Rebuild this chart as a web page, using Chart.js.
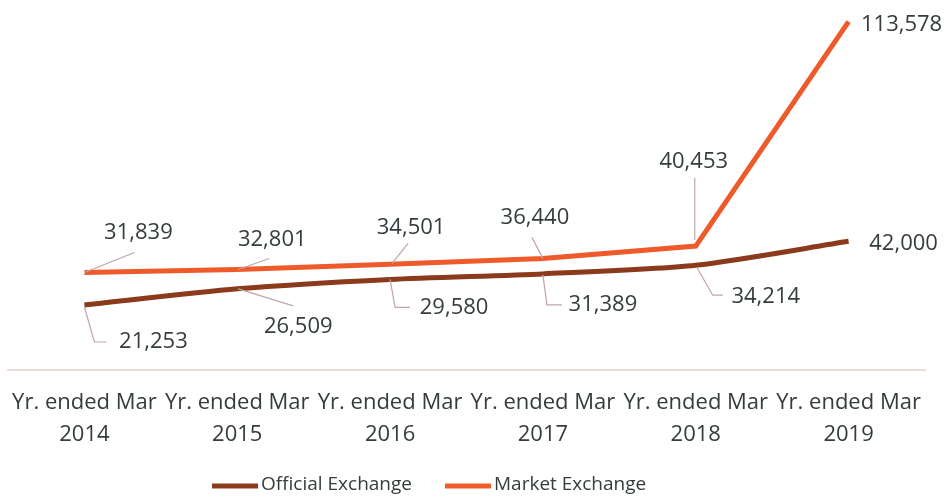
<!DOCTYPE html>
<html>
<head>
<meta charset="utf-8">
<script src="https://cdn.jsdelivr.net/npm/chart.js@4"></script>
<style>
  html, body { margin: 0; padding: 0; background: #ffffff; }
  #wrap { width: 945px; height: 498px; position: relative; }
</style>
</head>
<body>
<div id="wrap"><canvas id="line-chart"></canvas></div>
<script>
// categories and series
const years = [
  ['Yr. ended Mar', '2014'],
  ['Yr. ended Mar', '2015'],
  ['Yr. ended Mar', '2016'],
  ['Yr. ended Mar', '2017'],
  ['Yr. ended Mar', '2018'],
  ['Yr. ended Mar', '2019']
];
const official = [21253, 26509, 29580, 31389, 34214, 42000];
const market = [31839, 32801, 34501, 36440, 40453, 113578];

const textColor = '#353c3e';
const fontFamily = '"Open Sans", sans-serif';

// where each value label sits (text centre offset from the point) and its leader line
const labelLayout = {
  0: [ // official
    { dx: 69, dy: 37, leader: [[0, 2], [10, 37], [22, 37]] },
    { dx: 61, dy: 38, leader: [[1, 0], [56, 17]] },
    { dx: 64, dy: 28, leader: [[0, 0], [5, 28], [20, 28]] },
    { dx: 60, dy: 31, leader: [[0, 1], [4, 31], [19, 31]] },
    { dx: 70, dy: 32, leader: [[1, 2], [17, 30], [27, 30]] },
    { dx: 55, dy: 2, leader: null }
  ],
  1: [ // market
    { dx: 54, dy: -40, leader: [[0, 0], [50, -20]] },
    { dx: 35, dy: -30, leader: [[1, 0], [32, -11]] },
    { dx: 21, dy: -37, leader: [[2, -1], [18, -21]] },
    { dx: -8, dy: -41, leader: [[0, 0], [-11, -21]] },
    { dx: -2, dy: -84, leader: [[-1, -6], [-1, -68]] },
    { dx: 53, dy: 3, leader: null }
  ]
};

const valueLabels = {
  id: 'valueLabels',
  afterDatasetsDraw(chart) {
    const ctx = chart.ctx;
    ctx.save();
    chart.data.datasets.forEach((ds, i) => {
      const meta = chart.getDatasetMeta(i);
      meta.data.forEach((pt, j) => {
        const lay = labelLayout[i][j];
        if (lay.leader) {
          ctx.beginPath();
          ctx.strokeStyle = '#bfa6a6';
          ctx.lineWidth = 1.2;
          lay.leader.forEach((p, k) => {
            if (k === 0) ctx.moveTo(pt.x + p[0], pt.y + p[1]);
            else ctx.lineTo(pt.x + p[0], pt.y + p[1]);
          });
          ctx.stroke();
        }
        ctx.fillStyle = textColor;
        ctx.font = '22px ' + fontFamily;
        ctx.textAlign = 'center';
        ctx.textBaseline = 'middle';
        ctx.fillText(ds.data[j].toLocaleString('en-US'), pt.x + lay.dx, pt.y + lay.dy);
      });
    });
    ctx.restore();
  }
};

// legend drawn by hand so it sits where the original one does
const lineLegend = {
  id: 'lineLegend',
  afterDraw(chart) {
    const ctx = chart.ctx;
    let x = 212;
    const y = 485;
    ctx.save();
    ctx.font = '19px ' + fontFamily;
    ctx.textBaseline = 'middle';
    ctx.textAlign = 'left';
    chart.data.datasets.forEach(ds => {
      ctx.beginPath();
      ctx.strokeStyle = ds.borderColor;
      ctx.lineWidth = 5;
      ctx.moveTo(x, y + 1);
      ctx.lineTo(x + 46, y + 1);
      ctx.stroke();
      x += 49;
      ctx.fillStyle = textColor;
      ctx.fillText(ds.label, x, y);
      x += ctx.measureText(ds.label).width + 33;
    });
    ctx.restore();
  }
};

const lineChart = document.getElementById('line-chart');

new Chart(lineChart, {
  type: 'line',
  data: {
    labels: years,
    datasets: [
      {
        label: 'Official Exchange',
        data: official,
        borderColor: '#8b3a1c',
        backgroundColor: '#8b3a1c',
        borderWidth: 5,
        pointRadius: 0,
        tension: 0.25,
        fill: false
      },
      {
        label: 'Market Exchange',
        data: market,
        borderColor: '#ef5a2b',
        backgroundColor: '#ef5a2b',
        borderWidth: 5,
        pointRadius: 0,
        tension: 0,
        fill: false
      }
    ]
  },
  options: {
    responsive: true,
    maintainAspectRatio: false,
    animation: false,
    layout: {
      padding: { left: 8, right: 20, top: 2, bottom: 30 }
    },
    scales: {
      x: {
        offset: true,
        grid: { display: false, drawTicks: false },
        border: { display: true, color: '#eadcd8', width: 2 },
        ticks: {
          color: textColor,
          padding: 17,
          maxRotation: 0,
          autoSkip: false,
          font: { family: fontFamily, size: 22, lineHeight: 1.45 }
        },
        afterFit(scale) {
          // let the layout padding alone decide where the plot starts
          scale.paddingLeft = 0;
          scale.paddingRight = 0;
        }
      },
      y: {
        display: false,
        min: 0,
        max: 120000
      }
    },
    plugins: {
      legend: { display: false },
      tooltip: { enabled: false }
    }
  },
  plugins: [valueLabels, lineLegend]
});
</script>
</body>
</html>
